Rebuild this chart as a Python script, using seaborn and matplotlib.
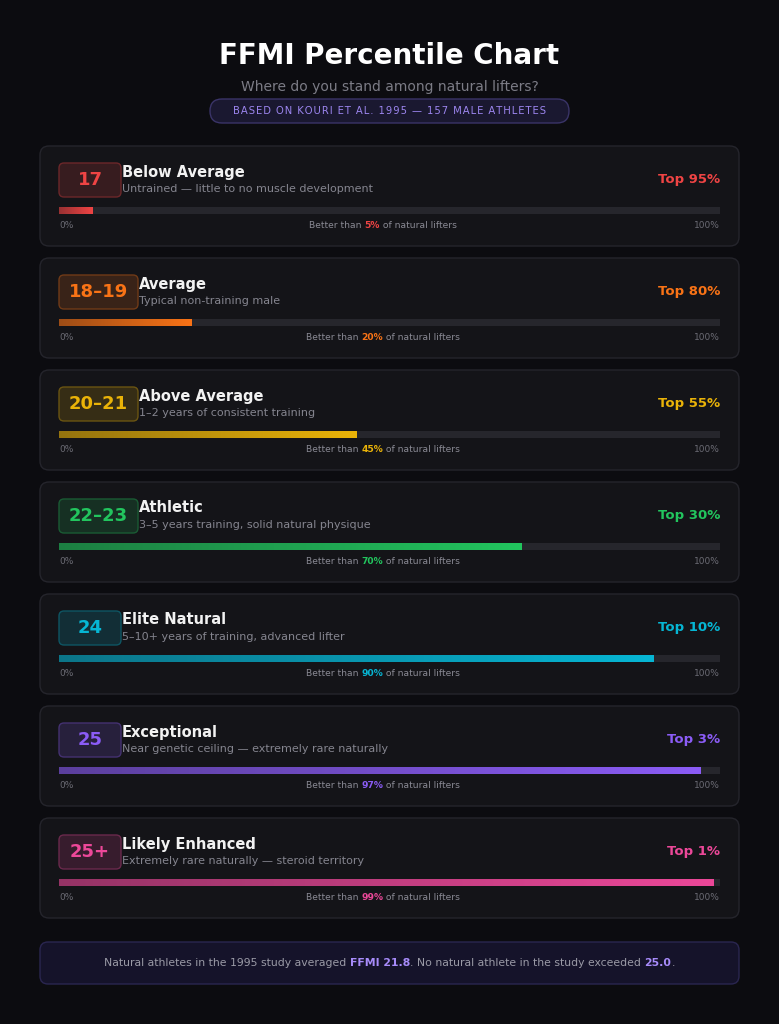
import matplotlib
matplotlib.use("Agg")
import matplotlib.pyplot as plt
import seaborn as sns
import numpy as np
from matplotlib.patches import FancyBboxPatch
from matplotlib.colors import to_rgb

sns.set_theme(style="white")
plt.rcParams['font.family'] = ['DejaVu Sans']

badges = ["17", "18–19", "20–21", "22–23", "24", "25", "25+"]
names = ["Below Average", "Average", "Above Average", "Athletic", "Elite Natural", "Exceptional", "Likely Enhanced"]
descs = ["Untrained — little to no muscle development", "Typical non-training male",
         "1–2 years of consistent training", "3–5 years training, solid natural physique",
         "5–10+ years of training, advanced lifter", "Near genetic ceiling — extremely rare naturally",
         "Extremely rare naturally — steroid territory"]
better = [5, 20, 45, 70, 90, 97, 99]
top = [95, 80, 55, 30, 10, 3, 1]
colors = ["#ef4444", "#f97316", "#eab308", "#22c55e", "#06b6d4", "#8b5cf6", "#ec4899"]

BG = "#0c0c10"
W, H = 779, 1024
fig = plt.figure(figsize=(W/100, H/100), dpi=100, facecolor=BG)
ax = fig.add_axes([0, 0, 1, 1])
ax.set_xlim(0, W); ax.set_ylim(H, 0); ax.axis("off")
ax.set_facecolor(BG)
rend = fig.canvas.get_renderer()

def rbox(x, y, w, h, fc, ec, r=8, lw=1):
    ax.add_patch(FancyBboxPatch((x, y), w, h, boxstyle=f"round,pad=0,rounding_size={r}",
                                fc=fc, ec=ec, lw=lw))

def mix(c, t, a):
    c = np.array(to_rgb(c)); t = np.array(to_rgb(t))
    return tuple(c*a + t*(1-a))

def runs(x, y, parts, size, ha="center"):
    objs = []
    for s, col, bold in parts:
        objs.append(ax.text(0, y, s, color=col, fontsize=size, va="center",
                            fontweight="bold" if bold else "normal"))
    widths = [o.get_window_extent(rend).width for o in objs]
    total = sum(widths)
    cx = x - total/2 if ha == "center" else x
    for o, w in zip(objs, widths):
        o.set_x(cx); cx += w

ax.text(W/2, 56, "FFMI Percentile Chart", color="white", fontsize=20, fontweight="bold", ha="center", va="center")
ax.text(W/2, 87, "Where do you stand among natural lifters?", color="#7c7c86", fontsize=10, ha="center", va="center")
rbox(210, 99, 359, 24, "#1a1830", "#3a3468", r=12)
ax.text(W/2, 111.5, "B A S E D   O N   K O U R I   E T   A L .   1 9 9 5   —   1 5 7   M A L E   A T H L E T E S".replace("   ", "\u2002").replace(" ", "\u200a"),
        color="#9d86f0", fontsize=7.2, ha="center", va="center")

for i in range(len(badges)):
    y0 = 146 + 112*i
    c = colors[i]
    rbox(40, y0, 699, 100, "#141418", "#25252c", r=9)
    bw = 62 if len(badges[i]) <= 3 else 79
    rbox(59, y0+17, bw, 34, mix(c, "#141418", 0.16), mix(c, "#141418", 0.4), r=5)
    ax.text(59+bw/2, y0+34, badges[i], color=c, fontsize=13, fontweight="bold", ha="center", va="center")
    tx = 59+bw+1
    ax.text(tx, y0+26, names[i], color="#f2f2f2", fontsize=10.5, fontweight="bold", va="center")
    ax.text(tx, y0+43, descs[i], color="#85858f", fontsize=8, va="center")
    ax.text(720, y0+33, f"Top {top[i]}%", color=c, fontsize=9.5, fontweight="bold", ha="right", va="center")
    ax.text(59, y0+79, "0%", color="#6b6b74", fontsize=6.5, va="center")
    ax.text(720, y0+79, "100%", color="#6b6b74", fontsize=6.5, ha="right", va="center")
    runs(383, y0+79, [("Better than ", "#8a8a94", False), (f"{better[i]}%", c, True),
                      (" of natural lifters", "#8a8a94", False)], 6.6)
    bax = fig.add_axes([59/W, 1-(y0+68)/H, 661/W, 7/H])
    bax.set_facecolor("#141418")
    bax.barh([0], [100], height=1, color="#26262c", lw=0)
    bax.barh([0], [better[i]], height=1, color=c, lw=0)
    grad = np.linspace(0, 1, 256)[None, :]
    cmap = matplotlib.colors.LinearSegmentedColormap.from_list("g", [mix(c, "#141418", 0.6), c])
    bax.imshow(grad, extent=[0, better[i], -0.5, 0.5], aspect="auto", cmap=cmap, zorder=3)
    bax.set_xlim(0, 100); bax.set_ylim(-0.5, 0.5); bax.axis("off")

rbox(40, 942, 699, 42, "#15132a", "#2a2650", r=8)
runs(W/2, 963, [("Natural athletes in the 1995 study averaged ", "#9a9aa6", False),
                ("FFMI 21.8", "#a78bfa", True),
                (". No natural athlete in the study exceeded ", "#9a9aa6", False),
                ("25.0", "#a78bfa", True), (".", "#9a9aa6", False)], 7.8)

fig.savefig("out.png", dpi=100, facecolor=BG)
